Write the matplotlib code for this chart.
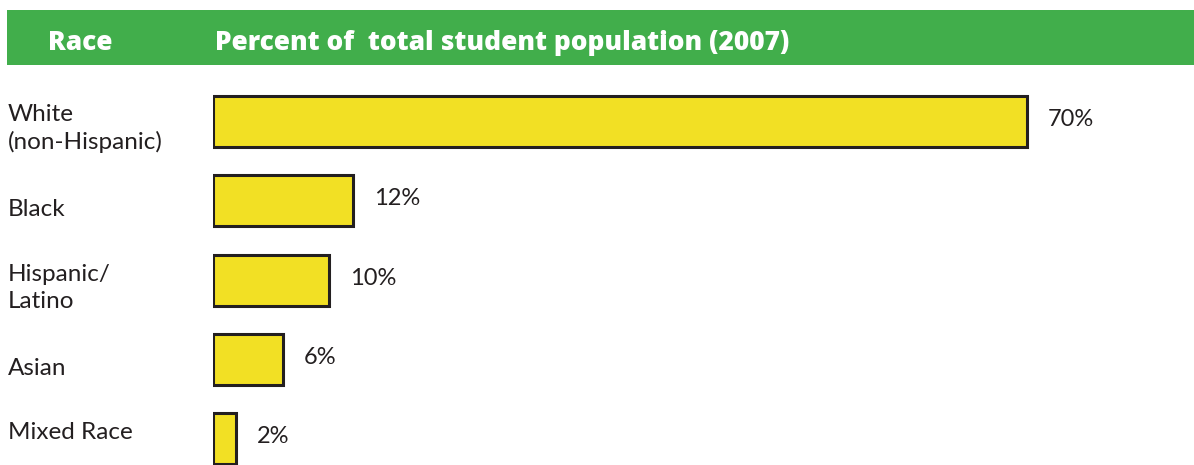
import matplotlib.pyplot as plt
from matplotlib.patches import Rectangle

# Data
races = ["White\n(non-Hispanic)", "Black", "Hispanic/\nLatino", "Asian", "Mixed Race"]
percent = [70, 12, 10, 6, 2]
value_labels = ["70%", "12%", "10%", "6%", "2%"]

header_left = "Race"
header_right = "Percent of  total student population (2007)"

plt.rcParams['font.family'] = ['Lato', 'DejaVu Sans']
text_color = '#231f20'

fig = plt.figure(figsize=(11.94, 4.65), dpi=100)
W, H = 1194, 465

# green header band
fig.patches.append(Rectangle((7 / W, 1 - 65 / H), 1 - 7 / W, 55 / H,
                             transform=fig.transFigure, facecolor='#41ae4b',
                             edgecolor='none', zorder=0))
for x, s in [(48, header_left), (215, header_right)]:
    fig.text(x / W, 1 - 50 / H, s, color='white', fontsize=18.9,
             fontweight=800, va='baseline', ha='left',
             family=['Open Sans', 'DejaVu Sans'])

# bar area
ax = fig.add_axes([213 / W, 0, 1 - 213 / W, 1 - 65 / H])
ypos = list(range(len(races)))
ax.barh(ypos, percent, height=0.64, color='#f2e024', edgecolor=text_color,
        linewidth=2.2)
ax.set_xlim(0, 70 * (W - 213) / 814)
ax.set_ylim(4.33, -0.712)
ax.axis('off')

# value labels, offset in pixels (72/100 pt per px)
px = 0.72
for y, v, lab in zip(ypos, percent, value_labels):
    ax.annotate(lab, (v, y), xytext=(21 * px, 2 * px), textcoords='offset points',
                va='center', ha='left', fontsize=17, color=text_color)

# category labels at the left edge of the figure
shift = [7, 9, 8, 9, -6]
for y, name, s in zip(ypos, races, shift):
    yf = ax.transData.transform((0, y))[1] / H
    ax.annotate(name, (8 / W, yf), xycoords='figure fraction',
                xytext=(0, -s * px), textcoords='offset points',
                va='center', ha='left', fontsize=17.5, color=text_color,
                linespacing=1.38)

fig.savefig('out.png', dpi=100)
